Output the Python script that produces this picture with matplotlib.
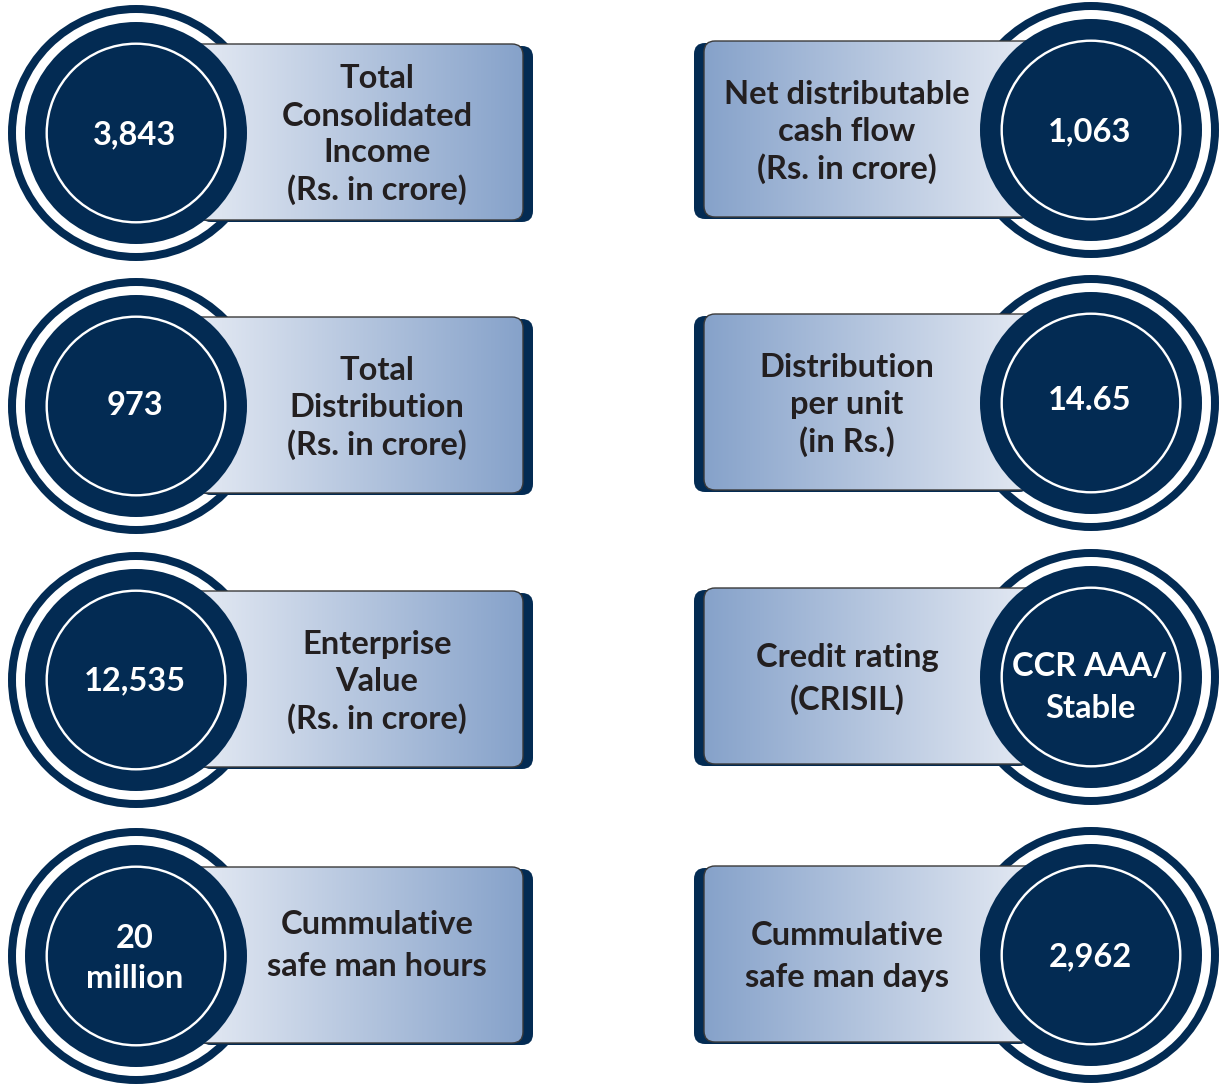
import matplotlib
matplotlib.use("Agg")
import matplotlib.pyplot as plt
import numpy as np
from matplotlib.patches import FancyBboxPatch, Wedge, Circle
from matplotlib.colors import LinearSegmentedColormap

# ---- data ----
left_values = ["3,843", "973", "12,535", "20\nmillion"]
left_labels = ["Total\nConsolidated\nIncome\n(Rs. in crore)",
               "Total\nDistribution\n(Rs. in crore)",
               "Enterprise\nValue\n(Rs. in crore)",
               "Cummulative\nsafe man hours"]
right_values = ["1,063", "14.65", "CCR AAA/\nStable", "2,962"]
right_labels = ["Net distributable\ncash flow\n(Rs. in crore)",
                "Distribution\nper unit\n(in Rs.)",
                "Credit rating\n(CRISIL)",
                "Cummulative\nsafe man days"]

# ---- style ----
NAVY = "#032b53"
TXT = "#231f20"
LIGHT = "#e6ebf4"
DARK = "#86a2ca"
FONT = ["Lato", "DejaVu Sans"]
FS = 23.5

W, H = 1221, 1084
fig = plt.figure(figsize=(W / 100, H / 100), dpi=100)
ax = fig.add_axes([0, 0, 1, 1])
ax.set_xlim(0, W)
ax.set_ylim(H, 0)
ax.set_aspect("equal")
ax.axis("off")

left_cy = [133, 406, 680, 956]
right_cy = [130, 403, 677, 955]
left_voff = [-1, -3, -2, 0]
right_voff = [-1, -5, 8, -1]


def tile(cx, cy, side, value, label, label_x, voff):
    # outer thin ring (behind box)
    ax.add_patch(Wedge((cx, cy), 128, 0, 360, width=8, facecolor=NAVY,
                       edgecolor="none", zorder=1))
    bh = 176
    by0 = cy - 89
    if side == "left":
        bx0, bx1 = 190, 523
        sdx = 10
        cmap = LinearSegmentedColormap.from_list("g", [LIGHT, DARK])
    else:
        bx0, bx1 = 704, 1040
        sdx = -10
        cmap = LinearSegmentedColormap.from_list("g", [DARK, LIGHT])
    bs = "round,pad=0,rounding_size=11"
    shadow = FancyBboxPatch((bx0 + sdx, by0 + 2), bx1 - bx0, bh, boxstyle=bs,
                            facecolor=NAVY, edgecolor="none", zorder=2)
    ax.add_patch(shadow)
    box = FancyBboxPatch((bx0, by0), bx1 - bx0, bh, boxstyle=bs,
                         facecolor="none", edgecolor="#3a3a3a", linewidth=1.0,
                         zorder=4)
    ax.add_patch(box)
    grad = np.linspace(0, 1, 256).reshape(1, -1)
    im = ax.imshow(grad, cmap=cmap, extent=[bx0, bx1, by0 + bh, by0],
                   aspect="auto", zorder=3, interpolation="bicubic")
    im.set_clip_path(box)
    # main disk and white line
    ax.add_patch(Circle((cx, cy), 111, facecolor=NAVY, edgecolor="none",
                        zorder=5))
    ax.add_patch(Wedge((cx, cy), 90.5, 0, 360, width=2.4, facecolor="white",
                       edgecolor="none", zorder=6))
    # value text
    vlines = value.split("\n")
    vsp = 41
    v0 = cy + voff - vsp * (len(vlines) - 1) / 2
    for i, t in enumerate(vlines):
        ax.text(cx - 1, v0 + i * vsp, t, color="white", fontsize=FS,
                fontweight="bold", family=FONT, ha="center",
                va="center_baseline", zorder=7)
    # label text
    llines = label.split("\n")
    lsp = 37 if len(llines) > 2 else 42
    lcy = by0 + bh / 2 - (12 if len(llines) == 2 and side == "left" else 0)
    l0 = lcy - lsp * (len(llines) - 1) / 2
    for i, t in enumerate(llines):
        ax.text(label_x, l0 + i * lsp, t, color=TXT, fontsize=FS,
                fontweight="bold", family=FONT, ha="center",
                va="center_baseline", zorder=7)


for v, l, cy, vo in zip(left_values, left_labels, left_cy, left_voff):
    tile(136, cy, "left", v, l, 377, vo)
for v, l, cy, vo in zip(right_values, right_labels, right_cy, right_voff):
    tile(1091, cy, "right", v, l, 847, vo)

fig.savefig("out.png", dpi=100)
